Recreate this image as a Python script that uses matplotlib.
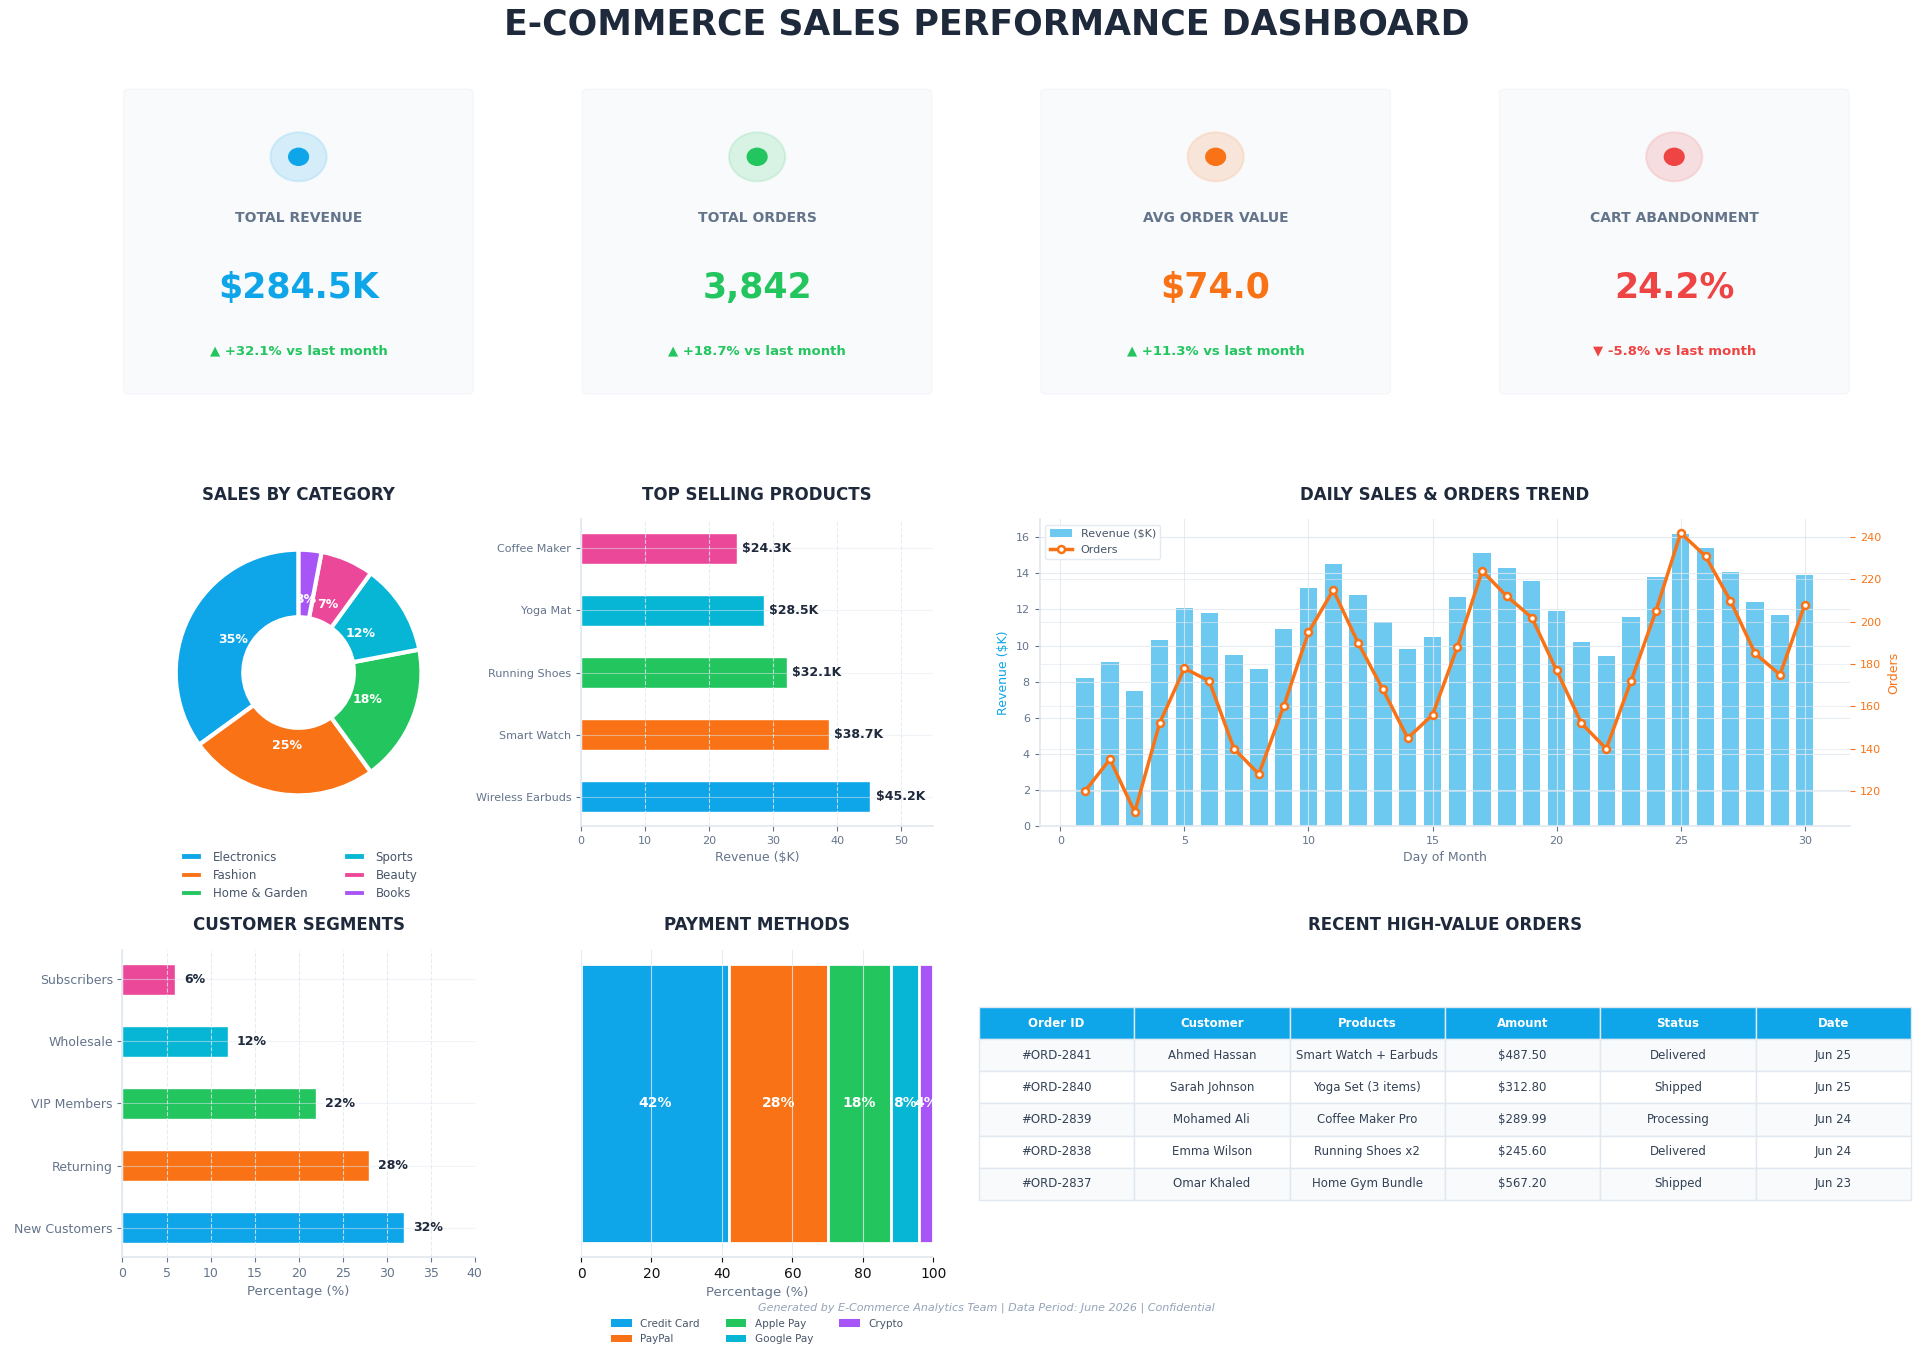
import matplotlib
matplotlib.use('Agg')
import matplotlib.pyplot as plt
from matplotlib.patches import Circle, FancyBboxPatch
import numpy as np

# palette
BLUE = '#0ea5e9'
GREEN = '#22c55e'
ORANGE = '#f97316'
RED = '#ef4444'
CYAN = '#06b6d4'
PINK = '#ec4899'
PURPLE = '#a855f7'
DARK = '#1e293b'
GRAY = '#64748b'
LIGHT = '#e2e8f0'

# KPI cards
kpi_titles = ['TOTAL REVENUE', 'TOTAL ORDERS', 'AVG ORDER VALUE', 'CART ABANDONMENT']
kpi_values = ['$284.5K', '3,842', '$74.0', '24.2%']
kpi_changes = ['▲ +32.1% vs last month', '▲ +18.7% vs last month',
               '▲ +11.3% vs last month', '▼ -5.8% vs last month']
kpi_up = [True, True, True, False]
kpi_colors = [BLUE, GREEN, ORANGE, RED]

# sales by category
categories = ['Electronics', 'Fashion', 'Home & Garden', 'Sports', 'Beauty', 'Books']
category_share = [35, 25, 18, 12, 7, 3]
category_colors = [BLUE, ORANGE, GREEN, CYAN, PINK, PURPLE]

# top products
products = ['Wireless Earbuds', 'Smart Watch', 'Running Shoes', 'Yoga Mat', 'Coffee Maker']
product_revenue = [45.2, 38.7, 32.1, 28.5, 24.3]
product_colors = [BLUE, ORANGE, GREEN, CYAN, PINK]

# daily trend
days = list(range(1, 31))
daily_revenue = [8.2, 9.1, 7.5, 10.3, 12.1, 11.8, 9.5, 8.7, 10.9, 13.2,
                 14.5, 12.8, 11.3, 9.8, 10.5, 12.7, 15.1, 14.3, 13.6, 11.9,
                 10.2, 9.4, 11.6, 13.8, 16.2, 15.4, 14.1, 12.4, 11.7, 13.9]
daily_orders = [120, 135, 110, 152, 178, 172, 140, 128, 160, 195,
                215, 190, 168, 145, 156, 188, 224, 212, 202, 177,
                152, 140, 172, 205, 242, 231, 210, 185, 175, 208]

# customer segments
segments = ['New Customers', 'Returning', 'VIP Members', 'Wholesale', 'Subscribers']
segment_share = [32, 28, 22, 12, 6]
segment_colors = [BLUE, ORANGE, GREEN, CYAN, PINK]

# payment methods
payment_methods = ['Credit Card', 'PayPal', 'Apple Pay', 'Google Pay', 'Crypto']
payment_share = [42, 28, 18, 8, 4]
payment_colors = [BLUE, ORANGE, GREEN, CYAN, PURPLE]

# recent orders table
table_header = ['Order ID', 'Customer', 'Products', 'Amount', 'Status', 'Date']
order_ids = ['#ORD-2841', '#ORD-2840', '#ORD-2839', '#ORD-2838', '#ORD-2837']
order_customers = ['Ahmed Hassan', 'Sarah Johnson', 'Mohamed Ali', 'Emma Wilson', 'Omar Khaled']
order_products = ['Smart Watch + Earbuds', 'Yoga Set (3 items)', 'Coffee Maker Pro',
                  'Running Shoes x2', 'Home Gym Bundle']
order_amounts = ['$487.50', '$312.80', '$289.99', '$245.60', '$567.20']
order_status = ['Delivered', 'Shipped', 'Processing', 'Delivered', 'Shipped']
order_dates = ['Jun 25', 'Jun 25', 'Jun 24', 'Jun 24', 'Jun 23']


def style_axes(ax, tick_color=GRAY):
    for side in ['top', 'right']:
        ax.spines[side].set_visible(False)
    for side in ['left', 'bottom']:
        ax.spines[side].set_color(LIGHT)
        ax.spines[side].set_linewidth(1.2)
    ax.tick_params(colors=tick_color, labelsize=8)


fig = plt.figure(figsize=(19.2, 13.54), dpi=100)
fig.patch.set_facecolor('white')
gs = fig.add_gridspec(3, 4, left=0.0638, right=0.9637, top=0.935, bottom=0.0716,
                      hspace=0.403, wspace=0.302)

fig.text(0.514, 0.982, 'E-COMMERCE SALES PERFORMANCE DASHBOARD', ha='center', va='center',
         fontsize=25, fontweight='bold', color=DARK)

# ---- KPI cards
for i in range(4):
    ax = fig.add_subplot(gs[0, i])
    ax.set_xlim(0, 1)
    ax.set_ylim(0, 1)
    ax.axis('off')
    ax.add_patch(FancyBboxPatch((0.004, 0.004), 0.992, 0.992,
                                boxstyle='round,pad=0,rounding_size=0.015',
                                fc='#f8fafc', ec='#f4f6f9', lw=1))
    c = kpi_colors[i]
    ring = matplotlib.colors.to_rgba(c, 0.15)
    ring_edge = matplotlib.colors.to_rgba(c, 0.12)
    ax.add_patch(Circle((0.5, 0.776), 0.08, fc=ring, ec=ring_edge, lw=1.5))
    ax.add_patch(Circle((0.5, 0.776), 0.03, color=c, lw=0))
    ax.text(0.5, 0.577, kpi_titles[i], ha='center', va='center', fontsize=10,
            fontweight='bold', color=GRAY)
    ax.text(0.5, 0.35, kpi_values[i], ha='center', va='center', fontsize=25,
            fontweight='bold', color=c)
    ax.text(0.5, 0.145, kpi_changes[i], ha='center', va='center', fontsize=9.5,
            fontweight='bold', color=GREEN if kpi_up[i] else RED)

# ---- sales by category (donut)
ax = fig.add_subplot(gs[1, 0])
wedges, texts, autotexts = ax.pie(category_share, colors=category_colors, startangle=90,
                                  autopct='%1.0f%%', pctdistance=0.6,
                                  wedgeprops=dict(width=0.55, edgecolor='white', linewidth=3),
                                  textprops=dict(color='white', fontsize=9, fontweight='bold'))
ax.set_aspect('equal')
ax.set_title('SALES BY CATEGORY', fontsize=12, fontweight='bold', color=DARK, pad=14)
ax.legend(wedges, categories, loc='upper center', bbox_to_anchor=(0.5, -0.045), ncol=2,
          frameon=False, fontsize=8.5, labelcolor='#475569', columnspacing=3,
          labelspacing=0.45)

# ---- top selling products
ax = fig.add_subplot(gs[1, 1])
ax.barh(products, product_revenue, height=0.5, color=product_colors,
        edgecolor='white', linewidth=1)
for i, v in enumerate(product_revenue):
    ax.text(v + 0.8, i, f'${v}K', va='center', ha='left', fontsize=9,
            fontweight='bold', color=DARK)
ax.set_xlim(0, 55)
ax.grid(axis='x', color=LIGHT, linestyle='--', alpha=0.8)
ax.grid(axis='y', color=LIGHT, alpha=0.5)
style_axes(ax)
ax.set_xlabel('Revenue ($K)', fontsize=9, color=GRAY)
ax.set_title('TOP SELLING PRODUCTS', fontsize=12, fontweight='bold', color=DARK, pad=14)

# ---- daily sales & orders
ax = fig.add_subplot(gs[1, 2:])
ax.bar(days, daily_revenue, width=0.7, color=BLUE, alpha=0.6, label='Revenue ($K)')
ax.grid(True, color=LIGHT, alpha=0.8)
style_axes(ax)
ax.set_xlabel('Day of Month', fontsize=9, color=GRAY)
ax.set_ylabel('Revenue ($K)', fontsize=9, color=BLUE)
ax2 = ax.twinx()
ax2.plot(days, daily_orders, color=ORANGE, lw=2.5, marker='o', ms=5,
         mfc='white', mec=ORANGE, mew=1.8, label='Orders')
ax2.grid(True, color=LIGHT, alpha=0.6)
for side in ['top', 'right', 'left', 'bottom']:
    ax2.spines[side].set_visible(False)
ax2.tick_params(colors=ORANGE, labelsize=8)
ax2.set_ylabel('Orders', fontsize=9, color=ORANGE)
h1, l1 = ax.get_legend_handles_labels()
h2, l2 = ax2.get_legend_handles_labels()
ax2.legend(h1 + h2, l1 + l2, loc='upper left', fontsize=8, framealpha=0.9,
           edgecolor=LIGHT, labelcolor='#475569')
ax.set_title('DAILY SALES & ORDERS TREND', fontsize=12, fontweight='bold', color=DARK, pad=14)

# ---- customer segments
ax = fig.add_subplot(gs[2, 0])
ax.barh(segments, segment_share, height=0.5, color=segment_colors,
        edgecolor='white', linewidth=1)
for i, v in enumerate(segment_share):
    ax.text(v + 1, i, f'{v}%', va='center', ha='left', fontsize=9,
            fontweight='bold', color=DARK)
ax.set_xlim(0, 40)
ax.grid(axis='x', color=LIGHT, linestyle='--', alpha=0.8)
ax.grid(axis='y', color=LIGHT, alpha=0.5)
style_axes(ax)
ax.tick_params(axis='y', labelsize=9)
ax.tick_params(axis='x', labelsize=9)
ax.set_xlabel('Percentage (%)', fontsize=9.5, color=GRAY)
ax.set_title('CUSTOMER SEGMENTS', fontsize=12, fontweight='bold', color=DARK, pad=14)

# ---- payment methods (single stacked bar)
ax = fig.add_subplot(gs[2, 1])
starts = np.concatenate([[0], np.cumsum(payment_share)[:-1]])
for name, v, s, c in zip(payment_methods, payment_share, starts, payment_colors):
    ax.barh(0, v, left=s, height=0.8, color=c, edgecolor='white', linewidth=2, label=name)
    ax.text(s + v / 2, 0, f'{v}%', ha='center', va='center', fontsize=10,
            fontweight='bold', color='white')
ax.set_xlim(0, 100)
ax.set_yticks([])
ax.grid(axis='x', color=LIGHT, alpha=0.8)
for side in ['top', 'right', 'left']:
    ax.spines[side].set_visible(False)
ax.spines['bottom'].set_color(LIGHT)
ax.spines['bottom'].set_linewidth(1.2)
ax.tick_params(axis='x', labelsize=10, colors='#111111')
ax.set_xlabel('Percentage (%)', fontsize=9.5, color=GRAY)
leg = ax.legend(loc='upper center', bbox_to_anchor=(0.5, -0.17), ncol=3, frameon=False,
                fontsize=7.5, labelcolor='#475569', columnspacing=2.5)
for h in leg.legend_handles:
    h.set_edgecolor(h.get_facecolor())
    h.set_linewidth(0)
ax.set_title('PAYMENT METHODS', fontsize=12, fontweight='bold', color=DARK, pad=14)

# ---- recent orders table
ax = fig.add_subplot(gs[2, 2:])
ax.axis('off')
rows = [list(r) for r in zip(order_ids, order_customers, order_products,
                             order_amounts, order_status, order_dates)]
tbl = ax.table(cellText=rows, colLabels=table_header, cellLoc='center',
               bbox=[-0.075, 0.186, 1.15, 0.628])
tbl.auto_set_font_size(False)
tbl.set_fontsize(8.5)
for (r, c), cell in tbl.get_celld().items():
    cell.set_edgecolor(LIGHT)
    cell.set_linewidth(1)
    if r == 0:
        cell.set_facecolor(BLUE)
        cell.get_text().set_color('white')
        cell.get_text().set_fontweight('bold')
    else:
        cell.set_facecolor('#f8fafc' if r % 2 == 1 else 'white')
        cell.get_text().set_color('#334155')
ax.set_title('RECENT HIGH-VALUE ORDERS', fontsize=12, fontweight='bold', color=DARK, pad=14)

fig.text(0.5135, 0.034,
         'Generated by E-Commerce Analytics Team | Data Period: June 2026 | Confidential',
         ha='center', va='center', fontsize=8, style='italic', color='#94a3b8')

fig.savefig('out.png', dpi=100, facecolor='white')
